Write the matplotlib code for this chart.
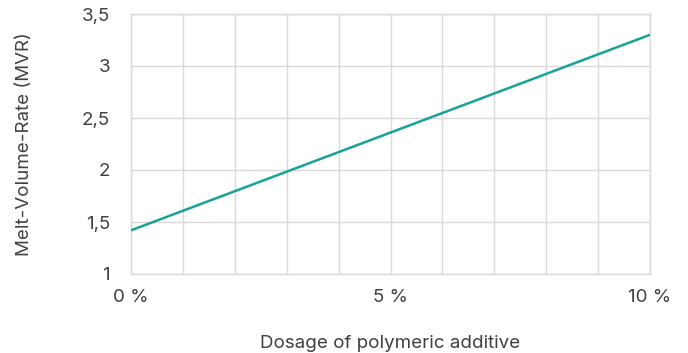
import matplotlib
matplotlib.use("Agg")
import matplotlib.pyplot as plt
from matplotlib.ticker import FuncFormatter, MultipleLocator

plt.rcParams['font.family'] = ['Inter', 'DejaVu Sans']

dosage = [0, 10]
mvr = [1.42, 3.30]
x_ticks = [0, 5, 10]
x_tick_labels = ["0 %", "5 %", "10 %"]
y_ticks = [1, 1.5, 2, 2.5, 3, 3.5]

text_color = "#404040"
grid_color = "#d9d9d9"
line_color = "#17a398"
fs = 13.5

fig = plt.figure(figsize=(6.88, 3.53), dpi=100)
ax = fig.add_axes([131/688, 1 - 274/353, (650-131)/688, (274-14)/353])

ax.plot(dosage, mvr, color=line_color, lw=1.8, solid_capstyle='butt', zorder=3)

ax.set_xlim(0, 10)
ax.set_ylim(1, 3.5)
ax.xaxis.set_minor_locator(MultipleLocator(1))
ax.set_xticks(x_ticks)
ax.set_xticklabels(x_tick_labels)
ax.set_yticks(y_ticks)
ax.yaxis.set_major_formatter(FuncFormatter(lambda v, p: f"{v:g}".replace(".", ",")))

ax.grid(True, which='both', axis='x', color=grid_color, lw=1)
ax.grid(True, which='major', axis='y', color=grid_color, lw=1)
ax.set_axisbelow(True)
for s in ax.spines.values():
    s.set_color(grid_color)
    s.set_linewidth(1)

ax.tick_params(axis='both', which='both', length=0, labelsize=fs, colors=text_color)
ax.tick_params(axis='x', pad=11)
ax.tick_params(axis='y', pad=15)

ax.set_xlabel("Dosage of polymeric additive", fontsize=fs, color=text_color)
ax.set_ylabel("Melt-Volume-Rate (MVR)", fontsize=fs, color=text_color)
ax.yaxis.set_label_coords(-(131-25)/(650-131), 0.5)
ax.xaxis.set_label_coords(0.5, -(343-274)/(274-14))
ax.xaxis.label.set_va('center')
ax.yaxis.label.set_va('center')

fig.savefig("out.png", dpi=100)
